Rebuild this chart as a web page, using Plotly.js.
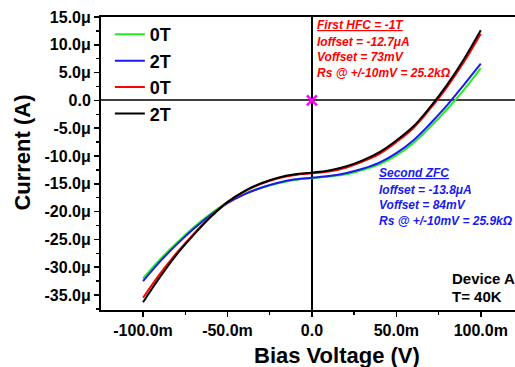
<!DOCTYPE html>
<html>
<head>
<meta charset="utf-8">
<script src="https://cdn.plot.ly/plotly-3.0.1.min.js"></script>
<style>
html, body { margin: 0; padding: 0; overflow: hidden; background: #fff; }
#chart { width: 540px; height: 367px; }
</style>
</head>
<body>
<div id="chart"></div>
<script>
// Bias voltage (mV)
const biasMv = [-100, -90, -80, -70, -60, -50, -40, -30, -20, -10, 0, 10, 20, 30, 40, 50, 60, 70, 80, 90, 100];
// Current (uA) for each run
const green0T = [-32.0, -28.6, -25.6, -22.8, -20.4, -18.3, -16.8, -15.7, -14.9, -14.3, -14.0, -13.7, -13.3, -12.5, -11.5, -9.9, -7.7, -4.8, -1.6, 1.9, 5.8];
const blue2T  = [-32.5, -29.0, -25.9, -23.1, -20.6, -18.5, -16.9, -15.7, -14.8, -14.2, -13.9, -13.6, -13.1, -12.3, -11.2, -9.5, -7.2, -4.2, -0.9, 2.8, 6.6];
const red0T   = [-35.5, -31.2, -27.4, -24.0, -20.9, -18.3, -16.4, -15.0, -14.0, -13.4, -13.1, -12.8, -12.1, -11.0, -9.6, -7.5, -5.0, -1.5, 2.4, 6.9, 12.0];
const black2T = [-36.3, -31.8, -27.7, -24.2, -21.0, -18.3, -16.3, -14.9, -13.9, -13.3, -13.0, -12.6, -11.9, -10.8, -9.3, -7.2, -4.7, -1.2, 2.8, 7.4, 12.6];
const seriesNames = ['0T', '2T', '0T', '2T'];
const seriesColors = ['#22ee22', '#1a1aee', '#ff0000', '#000000'];
const originV = [0];
const originI = [0];

// Tick labels
const xTickVals = [-100, -50, 0, 50, 100];
const xTickText = ['-100.0m', '-50.0m', '0.0', '50.0m', '100.0m'];
const yTickVals = [15, 10, 5, 0, -5, -10, -15, -20, -25, -30, -35];
const yTickText = ['15.0\u03bc', '10.0\u03bc', '5.0\u03bc', '0.0', '-5.0\u03bc', '-10.0\u03bc', '-15.0\u03bc', '-20.0\u03bc', '-25.0\u03bc', '-30.0\u03bc', '-35.0\u03bc'];
const xMinorVals = [-125, -75, -25, 25, 75, 125];
const yMinorVals = [12.5, 7.5, 2.5, -2.5, -7.5, -12.5, -17.5, -22.5, -27.5, -32.5, -37.5];

const seriesData = [green0T, blue2T, red0T, black2T];
const FONT = 'Liberation Sans, Arial, sans-serif';

const traces = seriesData.map((ys, i) => ({
  x: biasMv, y: ys, type: 'scatter', mode: 'lines', name: '<b>' + seriesNames[i] + '</b>',
  line: { color: seriesColors[i], width: 2, shape: 'spline', smoothing: 1 }
}));
traces.push({
  x: originV, y: originI, type: 'scatter', mode: 'markers', showlegend: false,
  marker: { symbol: 'x-thin', size: 10, color: '#ff00ff', line: { color: '#ff00ff', width: 2.5 } }
});

const redLines = ['<u>First HFC = -1T</u>', 'Ioffset = -12.7\u03bcA', 'Voffset = 73mV', 'Rs @ +/-10mV = 25.2k\u03a9'];
const redY = [13.5, 10.5, 7.8, 4.9];
const blueLines = ['<u>Second ZFC</u>', 'Ioffset = -13.8\u03bcA', 'Voffset = 84mV', 'Rs @ +/-10mV = 25.9k\u03a9'];
const blueY = [-13.1, -16.1, -18.8, -21.7];
const devLines = ['Device A', 'T= 40K'];
const devY = [-32.1, -35.2];

const annotations = [];
redLines.forEach((t, i) => annotations.push({
  x: 1.8, y: redY[i], xref: 'x', yref: 'y', xanchor: 'left', yanchor: 'middle', showarrow: false, text: t,
  font: { family: FONT, size: 12, color: '#ff0000', weight: 'bold', style: 'italic' }
}));
blueLines.forEach((t, i) => annotations.push({
  x: 38.5, y: blueY[i], xref: 'x', yref: 'y', xanchor: 'left', yanchor: 'middle', showarrow: false, text: t,
  font: { family: FONT, size: 12, color: '#1a1aee', weight: 'bold', style: 'italic' }
}));
devLines.forEach((t, i) => annotations.push({
  x: 82, y: devY[i], xref: 'x', yref: 'y', xanchor: 'left', yanchor: 'middle', showarrow: false, text: '<b>' + t + '</b>',
  font: { family: FONT, size: 15, color: '#000' }
}));
annotations.push({
  x: 0.559, y: -0.154, xref: 'paper', yref: 'paper', xanchor: 'center', yanchor: 'middle', showarrow: false,
  text: '<b>Bias Voltage (V)</b>', font: { family: FONT, size: 22, color: '#000' }
});
annotations.push({
  x: -0.187, y: 0.5375, xref: 'paper', yref: 'paper', xanchor: 'center', yanchor: 'middle', showarrow: false,
  textangle: -90, text: '<b>Current (A)</b>', font: { family: FONT, size: 22, color: '#000' }
});

const layout = {
  width: 540, height: 367,
  margin: { l: 101, r: 17, t: 17, b: 57 },
  paper_bgcolor: '#fff', plot_bgcolor: '#fff',
  showlegend: true,
  legend: {
    x: 0.021, y: 1.003, xanchor: 'left', yanchor: 'top', bgcolor: 'rgba(0,0,0,0)',
    font: { family: FONT, size: 18, color: '#000' }
  },
  xaxis: {
    range: [-124.9, 125], showgrid: false, zeroline: true, zerolinecolor: '#000', zerolinewidth: 1.5,
    showline: true, linecolor: '#000', linewidth: 2, mirror: true,
    tickmode: 'array', tickvals: xTickVals, ticktext: xTickText,
    ticks: 'outside', ticklen: 5, tickwidth: 1.5, tickcolor: '#000',
    minor: { tickmode: 'array', tickvals: xMinorVals, ticks: 'outside', ticklen: 3, tickwidth: 1.5, tickcolor: '#000', showgrid: false },
    tickfont: { family: FONT, size: 16, color: '#000', weight: 'bold' }
  },
  yaxis: {
    range: [-37.7, 15], showgrid: false, zeroline: true, zerolinecolor: '#404040', zerolinewidth: 2,
    showline: true, linecolor: '#000', linewidth: 2, mirror: true,
    tickmode: 'array', tickvals: yTickVals, ticktext: yTickText,
    ticks: 'outside', ticklen: 5, tickwidth: 1.5, tickcolor: '#000',
    minor: { tickmode: 'array', tickvals: yMinorVals, ticks: 'outside', ticklen: 3, tickwidth: 1.5, tickcolor: '#000', showgrid: false },
    tickfont: { family: FONT, size: 16, color: '#000', weight: 'bold' }
  },
  annotations: annotations
};

Plotly.newPlot('chart', traces, layout, { displayModeBar: false, staticPlot: true });
</script>
</body>
</html>
